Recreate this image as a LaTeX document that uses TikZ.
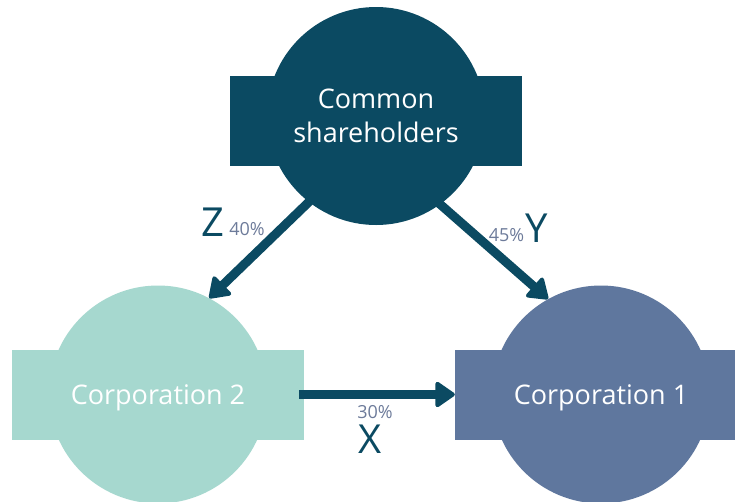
\documentclass[tikz,border=0pt]{standalone}
\usepackage{fontspec}
\setmainfont{Open Sans}
\usetikzlibrary{arrows.meta}

\definecolor{deepteal}{HTML}{0B4A62}
\definecolor{mint}{HTML}{A6D8CF}
\definecolor{slate}{HTML}{5F779E}
\definecolor{pctgray}{HTML}{6D7B9A}

\tikzset{
  disc/.style={circle, minimum size=218pt, inner sep=0pt,
    text=white, font=\fontsize{27}{34}\selectfont, align=center},
  band/.style={rectangle, minimum width=292pt, minimum height=90pt, inner sep=0pt},
  stake/.style={draw=deepteal, line width=9pt, shorten <=-5pt,
    -{Triangle[length=21pt, width=28pt, round, line width=4pt]}},
  letter/.style={text=deepteal, font=\fontsize{40}{40}\selectfont, anchor=base, inner sep=0pt},
  pct/.style={text=pctgray, font=\fontsize{18}{18}\selectfont, anchor=base, inner sep=0pt}
}

\begin{document}
\begin{tikzpicture}[x=1pt, y=-1pt]
    \useasboundingbox (0,0) rectangle (735,501);
    \clip (0,0) rectangle (735,501);
    \fill[white] (0,0) rectangle (735,501);

    % shareholders at the top
    \node[band, fill=deepteal] (holders band) at (375.5,120.5) {};
    \node[disc, fill=deepteal] (holders) at (376,116) {Common\\shareholders};

    % the two corporations
    \node[band, fill=mint] (corp2 band) at (158,394.5) {};
    \node[disc, fill=mint, text depth=0pt] (corp2) at (158,394.5) {Corporation 2};
    \node[band, fill=slate] (corp1 band) at (601,394.5) {};
    \node[disc, fill=slate, text depth=0pt] (corp1) at (601,394.5) {Corporation 1};

    \draw[stake] (holders.232) -- (corp2.62);
    \draw[stake] (holders.306) -- (corp1.119);
    \draw[stake] (corp2 band.east) -- (corp1 band.west);

    \node[letter] (z) at (213,236) {Z};
    \node[pct] (z pct) at (247,235) {40\%};
    \node[letter] (y) at (537,242) {Y};
    \node[pct] (y pct) at (506.5,241) {45\%};
    \node[letter] (x) at (370,453) {X};
    \node[pct] (x pct) at (375,418) {30\%};
  \end{tikzpicture}
\end{document}
